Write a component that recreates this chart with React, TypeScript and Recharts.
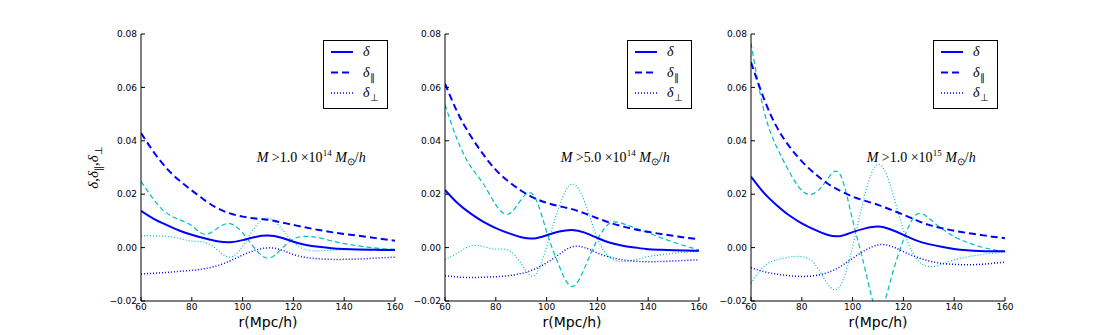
import { Label, Legend, Line, LineChart, ReferenceDot, XAxis, YAxis } from "recharts";

// r in Mpc/h, sampled every 5
const radius = [60, 65, 70, 75, 80, 85, 90, 95, 100, 105, 110, 115, 120, 125, 130, 135, 140, 145, 150, 155, 160];

const xTicks = [60, 80, 100, 120, 140, 160];
const yTicks = [-0.02, 0, 0.02, 0.04, 0.06, 0.08];

// M > 1.0e14
const p1Delta = [0.0138, 0.0108, 0.0085, 0.0064, 0.0048, 0.0035, 0.0024, 0.002, 0.0028, 0.004, 0.0045, 0.0038, 0.0022, 0.001, 0.0003, -0.0002, -0.0005, -0.0007, -0.0008, -0.0009, -0.0009];
const p1Par = [0.0429, 0.0358, 0.0298, 0.0252, 0.0214, 0.0178, 0.0148, 0.0128, 0.0116, 0.0109, 0.0104, 0.0095, 0.0085, 0.0075, 0.0066, 0.0058, 0.0051, 0.0045, 0.0039, 0.0032, 0.0026];
const p1Perp = [-0.0099, -0.0096, -0.0093, -0.0089, -0.0085, -0.0079, -0.0068, -0.005, -0.0028, -0.001, -0.0001, -0.0008, -0.0026, -0.0037, -0.0042, -0.0044, -0.0044, -0.0043, -0.0041, -0.0038, -0.0036];
const p1ParAlt = [0.0248, 0.018, 0.013, 0.0105, 0.0082, 0.005, 0.0072, 0.009, 0.0055, -0.0005, -0.004, -0.0008, 0.0032, 0.0042, 0.0037, 0.0025, 0.0015, 0.0007, 0.0001, -0.0004, -0.0007];
const p1PerpAlt = [0.0045, 0.0044, 0.0042, 0.0035, 0.0024, 0.002, -0.0008, -0.0036, 0.0005, 0.0078, 0.011, 0.0075, 0.002, -0.0008, -0.0012, -0.001, -0.0008, -0.0007, -0.0006, -0.0006, -0.0006];

// M > 5.0e14
const p2Delta = [0.0216, 0.0166, 0.0128, 0.0097, 0.0073, 0.0054, 0.0039, 0.0034, 0.0046, 0.006, 0.0066, 0.0056, 0.0036, 0.0018, 0.0007, 0.0, -0.0006, -0.0008, -0.001, -0.0011, -0.0012];
const p2Par = [0.0614, 0.0505, 0.042, 0.035, 0.0291, 0.0248, 0.0213, 0.0186, 0.0168, 0.0155, 0.0144, 0.0128, 0.011, 0.0093, 0.0079, 0.0068, 0.0059, 0.0051, 0.0044, 0.0037, 0.0031];
const p2Perp = [-0.0105, -0.011, -0.0112, -0.0111, -0.0109, -0.0105, -0.0097, -0.0082, -0.0057, -0.0025, 0.0003, 0.0, -0.002, -0.0036, -0.0046, -0.0051, -0.0053, -0.0052, -0.005, -0.0048, -0.0046];
const p2ParAlt = [0.0535, 0.04, 0.0305, 0.024, 0.016, 0.0126, 0.018, 0.0195, 0.006, -0.007, -0.0146, -0.0075, 0.003, 0.0092, 0.009, 0.0073, 0.0055, 0.0037, 0.002, 0.0005, -0.0009];
const p2PerpAlt = [-0.0044, -0.002, 0.0006, 0.0004, -0.0006, -0.001, -0.006, -0.0106, 0.0004, 0.0155, 0.0238, 0.017, 0.0035, -0.0038, -0.0052, -0.0045, -0.0034, -0.0027, -0.0021, -0.0017, -0.0015];

// M > 1.0e15
const p3Delta = [0.0266, 0.0206, 0.016, 0.0121, 0.0091, 0.0067, 0.0048, 0.0043, 0.0058, 0.0072, 0.0079, 0.0068, 0.0048, 0.0027, 0.0013, 0.0003, -0.0005, -0.001, -0.0013, -0.0014, -0.0014];
const p3Par = [0.0694, 0.056, 0.0454, 0.038, 0.0323, 0.0278, 0.0241, 0.0213, 0.0191, 0.0175, 0.016, 0.0142, 0.0123, 0.0103, 0.0085, 0.0073, 0.0063, 0.0055, 0.0048, 0.0041, 0.0035];
const p3Perp = [-0.0075, -0.009, -0.0099, -0.0105, -0.0108, -0.0105, -0.0094, -0.0072, -0.004, -0.001, 0.001, 0.0006, -0.0015, -0.0035, -0.005, -0.0059, -0.0063, -0.0064, -0.0063, -0.0059, -0.0055];
const p3ParAlt = [0.0766, 0.0516, 0.0379, 0.0285, 0.0214, 0.0204, 0.0255, 0.0275, 0.0104, -0.0084, -0.024, -0.0121, 0.0029, 0.0123, 0.011, 0.0072, 0.0041, 0.002, 0.0004, -0.0007, -0.0015];
const p3PerpAlt = [-0.0134, -0.0071, -0.0046, -0.0036, -0.0034, -0.006, -0.0134, -0.0145, 0.0004, 0.0204, 0.0312, 0.0229, 0.0066, -0.004, -0.0071, -0.0063, -0.0046, -0.0035, -0.0027, -0.0021, -0.0017];

const seriesNames = ["δ", "δ∥", "δ⊥"];
const mantissas = ["1.0", "5.0", "1.0"];
const exponents = ["14", "14", "15"];

const BLUE = "#0000ff";
const CYAN = "#00bfbf";
const MATH_FONT = "'Liberation Serif', serif";
const TICK_FONT = "'DejaVu Sans', sans-serif";

const fmtY = (v: number) => (v < 0 ? "\u2212" + Math.abs(v).toFixed(2) : v.toFixed(2));
const blank = () => "";

function buildRows(d: number[], par: number[], perp: number[], parAlt: number[], perpAlt: number[]) {
  return radius.map((r, i) => ({ r, d: d[i], par: par[i], perp: perp[i], parAlt: parAlt[i], perpAlt: perpAlt[i] }));
}

function SubName({ name, x, y, size }: { name: string; x: number; y: number; size: number }) {
  const base = name.slice(0, 1);
  const sub = name.slice(1);
  return (
    <text x={x} y={y} fontFamily={MATH_FONT} fontSize={size} fill="#000">
      <tspan fontStyle="italic">{base}</tspan>
      {sub && (
        <tspan dy={4} fontSize={size * 0.72}>
          {sub}
        </tspan>
      )}
    </text>
  );
}

function renderLegend(props: any) {
  const items = (props.payload || []).filter((e: any) => e.type !== "none");
  return (
    <svg width={65} height={69} style={{ display: "block" }}>
      <rect x={0.5} y={0.5} width={64} height={68} fill="#fff" stroke="#000" />
      {items.map((e: any, i: number) => {
        const y = 12 + i * 20.5;
        return (
          <g key={e.value}>
            <line x1={8} x2={30} y1={y} y2={y} stroke={e.color} strokeWidth={e.payload?.strokeWidth ?? 2} strokeDasharray={e.payload?.strokeDasharray} />
            <SubName name={e.value} x={40} y={y + 4} size={14} />
          </g>
        );
      })}
    </svg>
  );
}

function renderYLabel(props: any) {
  const vb = props.viewBox || { x: 0, y: 34, width: 60, height: 267 };
  const cx = vb.x + 17;
  const cy = vb.y + vb.height / 2;
  return (
    <text transform={`translate(${cx},${cy}) rotate(-90)`} textAnchor="middle" fontFamily={MATH_FONT} fontSize={15} fill="#000">
      <tspan fontStyle="italic">δ</tspan>
      <tspan>,</tspan>
      <tspan fontStyle="italic">δ</tspan>
      <tspan dy={4} fontSize={10}>∥</tspan>
      <tspan dy={-4}>,</tspan>
      <tspan fontStyle="italic">δ</tspan>
      <tspan dy={4} fontSize={10}>⊥</tspan>
    </text>
  );
}

function MassText({ cx, cy, mant, exp }: { cx: number; cy: number; mant: string; exp: string }) {
  return (
    <text x={cx} y={cy} textAnchor="middle" fontFamily={MATH_FONT} fontSize={14} fill="#000">
      <tspan fontStyle="italic">M</tspan>
      <tspan>{" >" + mant + " ×10"}</tspan>
      <tspan dy={-6} fontSize={9}>{exp}</tspan>
      <tspan dy={6} fontStyle="italic">{" M"}</tspan>
      <tspan dy={3} fontSize={10}>⊙</tspan>
      <tspan dy={-3}>/</tspan>
      <tspan fontStyle="italic">h</tspan>
    </text>
  );
}

function Panel({ rows, left, mant, exp, yLabel }: { rows: any[]; left: number; mant: string; exp: string; yLabel: boolean }) {
  const tick = { fontSize: 9, fill: "#000", fontFamily: TICK_FONT };
  return (
    <div style={{ position: "absolute", left, top: 0 }}>
      <LineChart width={324} height={335} data={rows} margin={{ top: 34, right: 10, bottom: 0, left: 0 }}>
        <XAxis dataKey="r" type="number" domain={[60, 160]} ticks={xTicks} interval={0} allowDataOverflow
          stroke="#000" tickSize={-4} tickMargin={7} tick={tick} height={34}>
          <Label value="r(Mpc/h)" position="insideBottom" offset={8} fontSize={14} fill="#000" fontFamily={TICK_FONT} />
        </XAxis>
        <XAxis xAxisId="top" orientation="top" dataKey="r" type="number" domain={[60, 160]} ticks={xTicks} interval={0}
          allowDataOverflow stroke="#000" tickSize={-4} tickFormatter={blank} height={0} />
        <YAxis type="number" domain={[-0.02, 0.08]} ticks={yTicks} interval={0} allowDataOverflow stroke="#000"
          tickSize={-4} tickMargin={8} tick={tick} tickFormatter={fmtY} width={60}>
          {yLabel && <Label content={renderYLabel} />}
        </YAxis>
        <YAxis yAxisId="right" orientation="right" type="number" domain={[-0.02, 0.08]} ticks={yTicks} interval={0}
          allowDataOverflow stroke="#000" tickSize={-4} tickFormatter={blank} width={0} />
        <Legend content={renderLegend} layout="horizontal" verticalAlign="middle" align="center"
          wrapperStyle={{ top: 40, left: 242, width: 65, height: 69 }} />
        <Line dataKey="parAlt" type="natural" stroke={CYAN} strokeWidth={1.2} strokeDasharray="5 3" dot={false} legendType="none" isAnimationActive={false} />
        <Line dataKey="perpAlt" type="natural" stroke={CYAN} strokeWidth={1.2} strokeDasharray="1 2" dot={false} legendType="none" isAnimationActive={false} />
        <Line dataKey="d" name={seriesNames[0]} type="natural" stroke={BLUE} strokeWidth={2} dot={false} isAnimationActive={false} />
        <Line dataKey="par" name={seriesNames[1]} type="natural" stroke={BLUE} strokeWidth={2} strokeDasharray="7 4" dot={false} isAnimationActive={false} />
        <Line dataKey="perp" name={seriesNames[2]} type="natural" stroke={BLUE} strokeWidth={1.5} strokeDasharray="1 2" dot={false} isAnimationActive={false} />
        <ReferenceDot x={127} y={0.032} r={0} ifOverflow="visible"
          shape={(p: any) => <MassText cx={p.cx} cy={p.cy} mant={mant} exp={exp} />} />
      </LineChart>
    </div>
  );
}

export default function App() {
  const panels = [
    buildRows(p1Delta, p1Par, p1Perp, p1ParAlt, p1PerpAlt),
    buildRows(p2Delta, p2Par, p2Perp, p2ParAlt, p2PerpAlt),
    buildRows(p3Delta, p3Par, p3Perp, p3ParAlt, p3PerpAlt),
  ];
  const lefts = [81, 385, 691];
  return (
    <div style={{ position: "absolute", left: 0, top: 0, width: 1117, height: 335, background: "#fff" }}>
      {panels.map((rows, i) => (
        <Panel key={i} rows={rows} left={lefts[i]} mant={mantissas[i]} exp={exponents[i]} yLabel={i === 0} />
      ))}
    </div>
  );
}
